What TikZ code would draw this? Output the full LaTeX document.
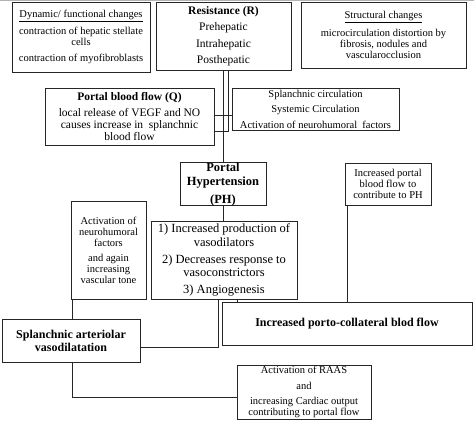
\documentclass[tikz,border=0pt]{standalone}
\usepackage{fontspec}
\setmainfont{Liberation Serif}
\begin{document}
\begin{tikzpicture}[x=1pt,y=-1pt,
  box/.style={draw=black!85, line width=0.9pt, rectangle, inner sep=0pt, align=center, anchor=center},
  link/.style={draw=black!85, line width=0.9pt},
  small/.style={font=\fontsize{10.5}{11}\selectfont}
]
\useasboundingbox (0,0) rectangle (474,422);
\fill[black!30] (0,0) rectangle (474,1.2);

% boxes
\node[box, small, minimum width=138pt, minimum height=70pt] (dyn) at (81,37)
  {\underline{Dynamic/ functional changes}\\[5pt]contraction of hepatic stellate\\cells\\[5pt]contraction of myofibroblasts};
\node[box, minimum width=135pt, minimum height=68pt, font=\fontsize{11.5}{16.5}\selectfont] (res) at (223.5,36)
  {\textbf{Resistance (R)}\\Prehepatic\\Intrahepatic\\Posthepatic};
\node[box, small, minimum width=165pt, minimum height=66pt] (struct) at (383.5,35)
  {\underline{Structural changes}\\[5pt]microcirculation distortion by\\fibrosis, nodules and\\vascularocclusion};
\node[box, minimum width=169pt, minimum height=57pt, font=\fontsize{11.5}{12}\selectfont] (portalq) at (129.5,116.5)
  {\textbf{Portal blood flow (Q)}\\[4pt]local release of VEGF and NO\\causes increase in\ \ splanchnic\\blood flow};
\node[box, minimum width=167pt, minimum height=42pt, font=\fontsize{10.5}{15.5}\selectfont] (splcirc) at (315.5,109)
  {Splanchnic circulation\\Systemic Circulation\\Activation of neurohumoral\ \ factors};
\node[box, minimum width=86pt, minimum height=42pt, font=\fontsize{12.5}{14}\selectfont\bfseries] (ph) at (223,184)
  {Portal\\Hypertension\\[4pt](PH)};
\node[box, minimum width=146pt, minimum height=78pt, font=\fontsize{12.5}{13.5}\selectfont] (list) at (224,260)
  {1) Increased production of\\vasodilators\\[3.5pt]2) Decreases response to\\vasoconstrictors\\[3.5pt]3) Angiogenesis};
\node[box, small, minimum width=75pt, minimum height=98pt] (actneuro) at (108.5,250)
  {Activation of\\neurohumoral\\factors\\[4pt]and again\\increasing\\vascular tone};
\node[box, small, minimum width=86pt, minimum height=42pt] (incportal) at (388,184)
  {Increased portal\\blood flow to\\contribute to PH};
\node[box, minimum width=250pt, minimum height=43pt, font=\fontsize{12}{13}\selectfont\bfseries] (porto) at (347,323.5)
  {Increased porto-collateral blod flow};
\node[box, minimum width=138pt, minimum height=43pt, font=\fontsize{12}{13}\selectfont\bfseries] (splart) at (71,340.5)
  {Splanchnic arteriolar\\vasodilatation};
\node[box, small, minimum width=134pt, minimum height=54pt] (raas) at (304,392)
  {Activation of RAAS\\[5pt]and\\[4pt]increasing Cardiac output\\contributing to portal flow};

% junction coordinates
\coordinate (j1) at (228,131);
\coordinate (j2) at (223,115);
\coordinate (j3) at (218,347);
\coordinate (j4) at (72,397);
\coordinate (j5) at (347,0);
\coordinate (j6) at (237,0);

% connectors
\draw[link] (res.south -| ph.north) -- (ph.north);
\draw[link] (res.south -| j1) |- (portalq.east |- j1);
\draw[link] (portalq.east |- j2) -- (splcirc.west |- j2);
\draw[link] (ph.south) -- (list.north -| ph.south);
\draw[link] (incportal.south -| j5) -- (porto.north -| j5);
\draw[link] (actneuro.south -| j4) -- (splart.north -| j4);
\draw[link] (splart.east |- j3) -| (list.south -| j3);
\draw[link] (splart.south -| j4) |- (raas.west |- j4);
\draw[link] (list.south -| j6) -- (porto.north -| j6);
\end{tikzpicture}
\end{document}
